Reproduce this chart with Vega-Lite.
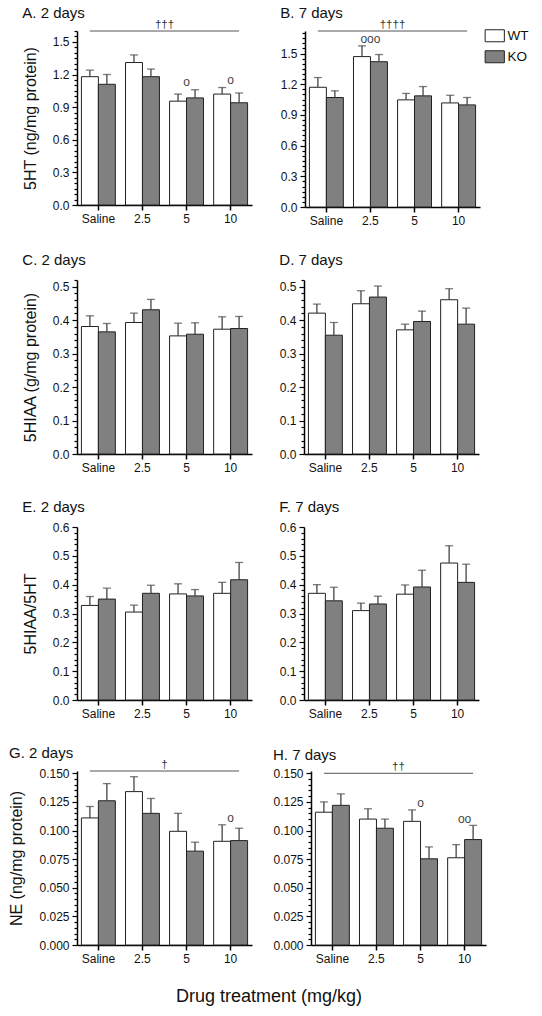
{
"$schema":"https://vega.github.io/schema/vega-lite/v6.json",
"padding":{"left":8,"top":6,"right":5,"bottom":5},
"datasets":{
"vals":[
{"p":"A","d":"Saline","g":"WT","m":1.18,"u":1.24},{"p":"A","d":"Saline","g":"KO","m":1.11,"u":1.2},
{"p":"A","d":"2.5","g":"WT","m":1.31,"u":1.38},{"p":"A","d":"2.5","g":"KO","m":1.18,"u":1.25},
{"p":"A","d":"5","g":"WT","m":0.955,"u":1.02},{"p":"A","d":"5","g":"KO","m":0.985,"u":1.06},
{"p":"A","d":"10","g":"WT","m":1.02,"u":1.08},{"p":"A","d":"10","g":"KO","m":0.94,"u":1.03},
{"p":"B","d":"Saline","g":"WT","m":1.17,"u":1.265},{"p":"B","d":"Saline","g":"KO","m":1.07,"u":1.135},
{"p":"B","d":"2.5","g":"WT","m":1.47,"u":1.575},{"p":"B","d":"2.5","g":"KO","m":1.42,"u":1.49},
{"p":"B","d":"5","g":"WT","m":1.047,"u":1.11},{"p":"B","d":"5","g":"KO","m":1.086,"u":1.177},
{"p":"B","d":"10","g":"WT","m":1.017,"u":1.092},{"p":"B","d":"10","g":"KO","m":0.998,"u":1.07},
{"p":"C","d":"Saline","g":"WT","m":0.381,"u":0.413},{"p":"C","d":"Saline","g":"KO","m":0.365,"u":0.39},
{"p":"C","d":"2.5","g":"WT","m":0.393,"u":0.421},{"p":"C","d":"2.5","g":"KO","m":0.431,"u":0.462},
{"p":"C","d":"5","g":"WT","m":0.353,"u":0.391},{"p":"C","d":"5","g":"KO","m":0.358,"u":0.392},
{"p":"C","d":"10","g":"WT","m":0.373,"u":0.41},{"p":"C","d":"10","g":"KO","m":0.375,"u":0.411},
{"p":"D","d":"Saline","g":"WT","m":0.421,"u":0.448},{"p":"D","d":"Saline","g":"KO","m":0.355,"u":0.393},
{"p":"D","d":"2.5","g":"WT","m":0.449,"u":0.488},{"p":"D","d":"2.5","g":"KO","m":0.469,"u":0.502},
{"p":"D","d":"5","g":"WT","m":0.371,"u":0.388},{"p":"D","d":"5","g":"KO","m":0.396,"u":0.427},
{"p":"D","d":"10","g":"WT","m":0.461,"u":0.494},{"p":"D","d":"10","g":"KO","m":0.388,"u":0.436},
{"p":"E","d":"Saline","g":"WT","m":0.328,"u":0.359},{"p":"E","d":"Saline","g":"KO","m":0.35,"u":0.388},
{"p":"E","d":"2.5","g":"WT","m":0.305,"u":0.329},{"p":"E","d":"2.5","g":"KO","m":0.37,"u":0.398},
{"p":"E","d":"5","g":"WT","m":0.368,"u":0.403},{"p":"E","d":"5","g":"KO","m":0.361,"u":0.383},
{"p":"E","d":"10","g":"WT","m":0.37,"u":0.408},{"p":"E","d":"10","g":"KO","m":0.417,"u":0.477},
{"p":"F","d":"Saline","g":"WT","m":0.37,"u":0.4},{"p":"F","d":"Saline","g":"KO","m":0.344,"u":0.391},
{"p":"F","d":"2.5","g":"WT","m":0.31,"u":0.336},{"p":"F","d":"2.5","g":"KO","m":0.333,"u":0.36},
{"p":"F","d":"5","g":"WT","m":0.367,"u":0.399},{"p":"F","d":"5","g":"KO","m":0.392,"u":0.45},
{"p":"F","d":"10","g":"WT","m":0.475,"u":0.535},{"p":"F","d":"10","g":"KO","m":0.408,"u":0.471},
{"p":"G","d":"Saline","g":"WT","m":0.111,"u":0.121},{"p":"G","d":"Saline","g":"KO","m":0.126,"u":0.141},
{"p":"G","d":"2.5","g":"WT","m":0.134,"u":0.147},{"p":"G","d":"2.5","g":"KO","m":0.115,"u":0.128},
{"p":"G","d":"5","g":"WT","m":0.0993,"u":0.115},{"p":"G","d":"5","g":"KO","m":0.082,"u":0.0898},
{"p":"G","d":"10","g":"WT","m":0.0906,"u":0.105},{"p":"G","d":"10","g":"KO","m":0.0912,"u":0.102},
{"p":"H","d":"Saline","g":"WT","m":0.116,"u":0.125},{"p":"H","d":"Saline","g":"KO","m":0.122,"u":0.132},
{"p":"H","d":"2.5","g":"WT","m":0.11,"u":0.119},{"p":"H","d":"2.5","g":"KO","m":0.102,"u":0.11},
{"p":"H","d":"5","g":"WT","m":0.108,"u":0.118},{"p":"H","d":"5","g":"KO","m":0.0753,"u":0.0857},
{"p":"H","d":"10","g":"WT","m":0.0762,"u":0.0877},{"p":"H","d":"10","g":"KO","m":0.0921,"u":0.1045}
],
"sig":[
{"p":"A","a":"Saline","b":"10","c":"2.5","y":1.6,"t":"†††"},
{"p":"B","a":"Saline","b":"10","c":"2.5","y":1.72,"t":"††††"},
{"p":"G","a":"Saline","b":"10","c":"2.5","y":0.152,"t":"†"},
{"p":"H","a":"Saline","b":"10","c":"2.5","y":0.15,"t":"††"}
],
"circ":[
{"p":"A","d":"5","y":1.13,"t":"o"},{"p":"A","d":"10","y":1.146,"t":"o"},
{"p":"B","d":"2.5","y":1.64,"t":"ooo"},
{"p":"G","d":"10","y":0.111,"t":"o"},
{"p":"H","d":"5","y":0.124,"t":"o"},{"p":"H","d":"10","y":0.11,"t":"oo"}
]
},
"title":{"text":"Drug treatment (mg/kg)","orient":"bottom","anchor":"middle","frame":"bounds","fontSize":18,"fontWeight":"normal","offset":24},
"spacing":27,
"vconcat":[
{"spacing":28,"hconcat":[
{"width":175,"height":174,"title":{"text":"A. 2 days","offset":-2},"resolve":{"axis":{"x":"independent","y":"independent"}},
"layer":[
{"data":{"name":"vals"},"transform":[{"filter":"datum.p==='A'"}],"mark":{"type":"bar","stroke":"#222","strokeWidth":1},
"encoding":{"x":{"field":"d","type":"nominal","scale":{"domain":["Saline","2.5","5","10"],"paddingInner":0.23,"paddingOuter":0.1},"axis":{"title":null}},
"xOffset":{"field":"g","type":"nominal","scale":{"domain":["WT","KO"]}},
"y":{"field":"m","type":"quantitative","scale":{"domain":[0,1.6],"nice":false},"axis":{"title":"5HT (ng/mg protein)","values":[0,0.05,0.1,0.15,0.2,0.25,0.3,0.35,0.4,0.45,0.5,0.55,0.6,0.65,0.7,0.75,0.8,0.85,0.9,0.95,1,1.05,1.1,1.15,1.2,1.25,1.3,1.35,1.4,1.45,1.5,1.55,1.6],"labelExpr":"abs(datum.value/0.3-round(datum.value/0.3))<0.001 ? format(datum.value,'.1f') : ''","tickSize":{"condition":{"test":"abs(datum.value/0.3-round(datum.value/0.3))<0.001","value":5},"value":3}}},
"fill":{"field":"g","type":"nominal","title":null,"scale":{"domain":["WT","KO"],"range":["#ffffff","#808080"]}}}},
{"data":{"name":"vals"},"transform":[{"filter":"datum.p==='A'"}],"mark":{"type":"rule","color":"#444","strokeWidth":1.3},
"encoding":{"x":{"field":"d","type":"nominal","scale":{"domain":["Saline","2.5","5","10"]},"axis":null},"xOffset":{"field":"g","type":"nominal","scale":{"domain":["WT","KO"]}},"y":{"field":"m","type":"quantitative","axis":null},"y2":{"field":"u"}}},
{"data":{"name":"vals"},"transform":[{"filter":"datum.p==='A'"}],"mark":{"type":"tick","color":"#444","thickness":1.3,"size":8},
"encoding":{"x":{"field":"d","type":"nominal","scale":{"domain":["Saline","2.5","5","10"]},"axis":null},"xOffset":{"field":"g","type":"nominal","scale":{"domain":["WT","KO"]}},"y":{"field":"u","type":"quantitative","axis":null}}},
{"data":{"name":"sig"},"transform":[{"filter":"datum.p==='A'"}],"mark":{"type":"rule","color":"#555","strokeWidth":1},
"encoding":{"x":{"field":"a","type":"nominal","bandPosition":0.25,"scale":{"domain":["Saline","2.5","5","10"]},"axis":null},"x2":{"field":"b","bandPosition":0.75},"y":{"field":"y","type":"quantitative","axis":null}}},
{"data":{"name":"sig"},"transform":[{"filter":"datum.p==='A'"}],"mark":{"type":"text","baseline":"bottom","fontSize":11.5,"color":"#333","dy":-1},
"encoding":{"x":{"field":"c","type":"nominal","bandPosition":1.149,"scale":{"domain":["Saline","2.5","5","10"]},"axis":null},"y":{"field":"y","type":"quantitative","axis":null},"text":{"field":"t"}}},
{"data":{"name":"circ"},"transform":[{"filter":"datum.p==='A'"}],"mark":{"type":"text","baseline":"middle","fontSize":12,"color":"#444"},
"encoding":{"x":{"field":"d","type":"nominal","scale":{"domain":["Saline","2.5","5","10"]},"axis":null},"y":{"field":"y","type":"quantitative","axis":null},"text":{"field":"t"}}}
]},
{"width":175,"height":176,"title":{"text":"B. 7 days","offset":-2},"resolve":{"axis":{"x":"independent","y":"independent"}},
"layer":[
{"data":{"name":"vals"},"transform":[{"filter":"datum.p==='B'"}],"mark":{"type":"bar","stroke":"#222","strokeWidth":1},
"encoding":{"x":{"field":"d","type":"nominal","scale":{"domain":["Saline","2.5","5","10"],"paddingInner":0.23,"paddingOuter":0.1},"axis":{"title":null}},
"xOffset":{"field":"g","type":"nominal","scale":{"domain":["WT","KO"]}},
"y":{"field":"m","type":"quantitative","scale":{"domain":[0,1.72],"nice":false},"axis":{"title":null,"values":[0,0.05,0.1,0.15,0.2,0.25,0.3,0.35,0.4,0.45,0.5,0.55,0.6,0.65,0.7,0.75,0.8,0.85,0.9,0.95,1,1.05,1.1,1.15,1.2,1.25,1.3,1.35,1.4,1.45,1.5,1.55,1.6,1.65,1.7],"labelExpr":"abs(datum.value/0.3-round(datum.value/0.3))<0.001 ? format(datum.value,'.1f') : ''","tickSize":{"condition":{"test":"abs(datum.value/0.3-round(datum.value/0.3))<0.001","value":5},"value":3}}},
"fill":{"field":"g","type":"nominal","title":null,"scale":{"domain":["WT","KO"],"range":["#ffffff","#808080"]}}}},
{"data":{"name":"vals"},"transform":[{"filter":"datum.p==='B'"}],"mark":{"type":"rule","color":"#444","strokeWidth":1.3},
"encoding":{"x":{"field":"d","type":"nominal","scale":{"domain":["Saline","2.5","5","10"]},"axis":null},"xOffset":{"field":"g","type":"nominal","scale":{"domain":["WT","KO"]}},"y":{"field":"m","type":"quantitative","axis":null},"y2":{"field":"u"}}},
{"data":{"name":"vals"},"transform":[{"filter":"datum.p==='B'"}],"mark":{"type":"tick","color":"#444","thickness":1.3,"size":8},
"encoding":{"x":{"field":"d","type":"nominal","scale":{"domain":["Saline","2.5","5","10"]},"axis":null},"xOffset":{"field":"g","type":"nominal","scale":{"domain":["WT","KO"]}},"y":{"field":"u","type":"quantitative","axis":null}}},
{"data":{"name":"sig"},"transform":[{"filter":"datum.p==='B'"}],"mark":{"type":"rule","color":"#555","strokeWidth":1},
"encoding":{"x":{"field":"a","type":"nominal","bandPosition":0.25,"scale":{"domain":["Saline","2.5","5","10"]},"axis":null},"x2":{"field":"b","bandPosition":0.75},"y":{"field":"y","type":"quantitative","axis":null}}},
{"data":{"name":"sig"},"transform":[{"filter":"datum.p==='B'"}],"mark":{"type":"text","baseline":"bottom","fontSize":11.5,"color":"#333","dy":-1},
"encoding":{"x":{"field":"c","type":"nominal","bandPosition":1.149,"scale":{"domain":["Saline","2.5","5","10"]},"axis":null},"y":{"field":"y","type":"quantitative","axis":null},"text":{"field":"t"}}},
{"data":{"name":"circ"},"transform":[{"filter":"datum.p==='B'"}],"mark":{"type":"text","baseline":"middle","fontSize":12,"color":"#444"},
"encoding":{"x":{"field":"d","type":"nominal","scale":{"domain":["Saline","2.5","5","10"]},"axis":null},"y":{"field":"y","type":"quantitative","axis":null},"text":{"field":"t"}}}
]}
]},
{"spacing":27,"hconcat":[
{"width":175,"height":174,"title":{"text":"C. 2 days"},"resolve":{"axis":{"x":"independent","y":"independent"}},
"layer":[
{"data":{"name":"vals"},"transform":[{"filter":"datum.p==='C'"}],"mark":{"type":"bar","stroke":"#222","strokeWidth":1},
"encoding":{"x":{"field":"d","type":"nominal","scale":{"domain":["Saline","2.5","5","10"],"paddingInner":0.23,"paddingOuter":0.1},"axis":{"title":null}},
"xOffset":{"field":"g","type":"nominal","scale":{"domain":["WT","KO"]}},
"y":{"field":"m","type":"quantitative","scale":{"domain":[0,0.52],"nice":false},"axis":{"title":"5HIAA (g/mg protein)","values":[0,0.02,0.04,0.06,0.08,0.1,0.12,0.14,0.16,0.18,0.2,0.22,0.24,0.26,0.28,0.3,0.32,0.34,0.36,0.38,0.4,0.42,0.44,0.46,0.48,0.5,0.52],"labelExpr":"abs(datum.value*10-round(datum.value*10))<0.001 ? format(datum.value,'.1f') : ''","tickSize":{"condition":{"test":"abs(datum.value*10-round(datum.value*10))<0.001","value":5},"value":3}}},
"fill":{"field":"g","type":"nominal","title":null,"scale":{"domain":["WT","KO"],"range":["#ffffff","#808080"]}}}},
{"data":{"name":"vals"},"transform":[{"filter":"datum.p==='C'"}],"mark":{"type":"rule","color":"#444","strokeWidth":1.3},
"encoding":{"x":{"field":"d","type":"nominal","scale":{"domain":["Saline","2.5","5","10"]},"axis":null},"xOffset":{"field":"g","type":"nominal","scale":{"domain":["WT","KO"]}},"y":{"field":"m","type":"quantitative","axis":null},"y2":{"field":"u"}}},
{"data":{"name":"vals"},"transform":[{"filter":"datum.p==='C'"}],"mark":{"type":"tick","color":"#444","thickness":1.3,"size":8},
"encoding":{"x":{"field":"d","type":"nominal","scale":{"domain":["Saline","2.5","5","10"]},"axis":null},"xOffset":{"field":"g","type":"nominal","scale":{"domain":["WT","KO"]}},"y":{"field":"u","type":"quantitative","axis":null}}}
]},
{"width":175,"height":174,"title":{"text":"D. 7 days"},"resolve":{"axis":{"x":"independent","y":"independent"}},
"layer":[
{"data":{"name":"vals"},"transform":[{"filter":"datum.p==='D'"}],"mark":{"type":"bar","stroke":"#222","strokeWidth":1},
"encoding":{"x":{"field":"d","type":"nominal","scale":{"domain":["Saline","2.5","5","10"],"paddingInner":0.23,"paddingOuter":0.1},"axis":{"title":null}},
"xOffset":{"field":"g","type":"nominal","scale":{"domain":["WT","KO"]}},
"y":{"field":"m","type":"quantitative","scale":{"domain":[0,0.52],"nice":false},"axis":{"title":null,"values":[0,0.02,0.04,0.06,0.08,0.1,0.12,0.14,0.16,0.18,0.2,0.22,0.24,0.26,0.28,0.3,0.32,0.34,0.36,0.38,0.4,0.42,0.44,0.46,0.48,0.5,0.52],"labelExpr":"abs(datum.value*10-round(datum.value*10))<0.001 ? format(datum.value,'.1f') : ''","tickSize":{"condition":{"test":"abs(datum.value*10-round(datum.value*10))<0.001","value":5},"value":3}}},
"fill":{"field":"g","type":"nominal","title":null,"scale":{"domain":["WT","KO"],"range":["#ffffff","#808080"]}}}},
{"data":{"name":"vals"},"transform":[{"filter":"datum.p==='D'"}],"mark":{"type":"rule","color":"#444","strokeWidth":1.3},
"encoding":{"x":{"field":"d","type":"nominal","scale":{"domain":["Saline","2.5","5","10"]},"axis":null},"xOffset":{"field":"g","type":"nominal","scale":{"domain":["WT","KO"]}},"y":{"field":"m","type":"quantitative","axis":null},"y2":{"field":"u"}}},
{"data":{"name":"vals"},"transform":[{"filter":"datum.p==='D'"}],"mark":{"type":"tick","color":"#444","thickness":1.3,"size":8},
"encoding":{"x":{"field":"d","type":"nominal","scale":{"domain":["Saline","2.5","5","10"]},"axis":null},"xOffset":{"field":"g","type":"nominal","scale":{"domain":["WT","KO"]}},"y":{"field":"u","type":"quantitative","axis":null}}}
]}
]},
{"spacing":27,"hconcat":[
{"width":175,"height":173,"title":{"text":"E. 2 days"},"resolve":{"axis":{"x":"independent","y":"independent"}},
"layer":[
{"data":{"name":"vals"},"transform":[{"filter":"datum.p==='E'"}],"mark":{"type":"bar","stroke":"#222","strokeWidth":1},
"encoding":{"x":{"field":"d","type":"nominal","scale":{"domain":["Saline","2.5","5","10"],"paddingInner":0.23,"paddingOuter":0.1},"axis":{"title":null}},
"xOffset":{"field":"g","type":"nominal","scale":{"domain":["WT","KO"]}},
"y":{"field":"m","type":"quantitative","scale":{"domain":[0,0.6],"nice":false},"axis":{"title":"5HIAA/5HT","values":[0,0.02,0.04,0.06,0.08,0.1,0.12,0.14,0.16,0.18,0.2,0.22,0.24,0.26,0.28,0.3,0.32,0.34,0.36,0.38,0.4,0.42,0.44,0.46,0.48,0.5,0.52,0.54,0.56,0.58,0.6],"labelExpr":"abs(datum.value*10-round(datum.value*10))<0.001 ? format(datum.value,'.1f') : ''","tickSize":{"condition":{"test":"abs(datum.value*10-round(datum.value*10))<0.001","value":5},"value":3}}},
"fill":{"field":"g","type":"nominal","title":null,"scale":{"domain":["WT","KO"],"range":["#ffffff","#808080"]}}}},
{"data":{"name":"vals"},"transform":[{"filter":"datum.p==='E'"}],"mark":{"type":"rule","color":"#444","strokeWidth":1.3},
"encoding":{"x":{"field":"d","type":"nominal","scale":{"domain":["Saline","2.5","5","10"]},"axis":null},"xOffset":{"field":"g","type":"nominal","scale":{"domain":["WT","KO"]}},"y":{"field":"m","type":"quantitative","axis":null},"y2":{"field":"u"}}},
{"data":{"name":"vals"},"transform":[{"filter":"datum.p==='E'"}],"mark":{"type":"tick","color":"#444","thickness":1.3,"size":8},
"encoding":{"x":{"field":"d","type":"nominal","scale":{"domain":["Saline","2.5","5","10"]},"axis":null},"xOffset":{"field":"g","type":"nominal","scale":{"domain":["WT","KO"]}},"y":{"field":"u","type":"quantitative","axis":null}}}
]},
{"width":175,"height":173,"title":{"text":"F. 7 days"},"resolve":{"axis":{"x":"independent","y":"independent"}},
"layer":[
{"data":{"name":"vals"},"transform":[{"filter":"datum.p==='F'"}],"mark":{"type":"bar","stroke":"#222","strokeWidth":1},
"encoding":{"x":{"field":"d","type":"nominal","scale":{"domain":["Saline","2.5","5","10"],"paddingInner":0.23,"paddingOuter":0.1},"axis":{"title":null}},
"xOffset":{"field":"g","type":"nominal","scale":{"domain":["WT","KO"]}},
"y":{"field":"m","type":"quantitative","scale":{"domain":[0,0.6],"nice":false},"axis":{"title":null,"values":[0,0.02,0.04,0.06,0.08,0.1,0.12,0.14,0.16,0.18,0.2,0.22,0.24,0.26,0.28,0.3,0.32,0.34,0.36,0.38,0.4,0.42,0.44,0.46,0.48,0.5,0.52,0.54,0.56,0.58,0.6],"labelExpr":"abs(datum.value*10-round(datum.value*10))<0.001 ? format(datum.value,'.1f') : ''","tickSize":{"condition":{"test":"abs(datum.value*10-round(datum.value*10))<0.001","value":5},"value":3}}},
"fill":{"field":"g","type":"nominal","title":null,"scale":{"domain":["WT","KO"],"range":["#ffffff","#808080"]}}}},
{"data":{"name":"vals"},"transform":[{"filter":"datum.p==='F'"}],"mark":{"type":"rule","color":"#444","strokeWidth":1.3},
"encoding":{"x":{"field":"d","type":"nominal","scale":{"domain":["Saline","2.5","5","10"]},"axis":null},"xOffset":{"field":"g","type":"nominal","scale":{"domain":["WT","KO"]}},"y":{"field":"m","type":"quantitative","axis":null},"y2":{"field":"u"}}},
{"data":{"name":"vals"},"transform":[{"filter":"datum.p==='F'"}],"mark":{"type":"tick","color":"#444","thickness":1.3,"size":8},
"encoding":{"x":{"field":"d","type":"nominal","scale":{"domain":["Saline","2.5","5","10"]},"axis":null},"xOffset":{"field":"g","type":"nominal","scale":{"domain":["WT","KO"]}},"y":{"field":"u","type":"quantitative","axis":null}}}
]}
]},
{"spacing":20,"hconcat":[
{"width":175,"height":174,"title":{"text":"G. 2 days","offset":-2},"resolve":{"axis":{"x":"independent","y":"independent"}},
"layer":[
{"data":{"name":"vals"},"transform":[{"filter":"datum.p==='G'"}],"mark":{"type":"bar","stroke":"#222","strokeWidth":1},
"encoding":{"x":{"field":"d","type":"nominal","scale":{"domain":["Saline","2.5","5","10"],"paddingInner":0.23,"paddingOuter":0.1},"axis":{"title":null}},
"xOffset":{"field":"g","type":"nominal","scale":{"domain":["WT","KO"]}},
"y":{"field":"m","type":"quantitative","scale":{"domain":[0,0.152],"nice":false},"axis":{"title":"NE (ng/mg protein)","values":[0,0.005,0.01,0.015,0.02,0.025,0.03,0.035,0.04,0.045,0.05,0.055,0.06,0.065,0.07,0.075,0.08,0.085,0.09,0.095,0.1,0.105,0.11,0.115,0.12,0.125,0.13,0.135,0.14,0.145,0.15],"labelExpr":"abs(datum.value*40-round(datum.value*40))<0.001 ? format(datum.value,'.3f') : ''","tickSize":{"condition":{"test":"abs(datum.value*40-round(datum.value*40))<0.001","value":5},"value":3}}},
"fill":{"field":"g","type":"nominal","title":null,"scale":{"domain":["WT","KO"],"range":["#ffffff","#808080"]}}}},
{"data":{"name":"vals"},"transform":[{"filter":"datum.p==='G'"}],"mark":{"type":"rule","color":"#444","strokeWidth":1.3},
"encoding":{"x":{"field":"d","type":"nominal","scale":{"domain":["Saline","2.5","5","10"]},"axis":null},"xOffset":{"field":"g","type":"nominal","scale":{"domain":["WT","KO"]}},"y":{"field":"m","type":"quantitative","axis":null},"y2":{"field":"u"}}},
{"data":{"name":"vals"},"transform":[{"filter":"datum.p==='G'"}],"mark":{"type":"tick","color":"#444","thickness":1.3,"size":8},
"encoding":{"x":{"field":"d","type":"nominal","scale":{"domain":["Saline","2.5","5","10"]},"axis":null},"xOffset":{"field":"g","type":"nominal","scale":{"domain":["WT","KO"]}},"y":{"field":"u","type":"quantitative","axis":null}}},
{"data":{"name":"sig"},"transform":[{"filter":"datum.p==='G'"}],"mark":{"type":"rule","color":"#555","strokeWidth":1},
"encoding":{"x":{"field":"a","type":"nominal","bandPosition":0.25,"scale":{"domain":["Saline","2.5","5","10"]},"axis":null},"x2":{"field":"b","bandPosition":0.75},"y":{"field":"y","type":"quantitative","axis":null}}},
{"data":{"name":"sig"},"transform":[{"filter":"datum.p==='G'"}],"mark":{"type":"text","baseline":"bottom","fontSize":11.5,"color":"#333","dy":-1},
"encoding":{"x":{"field":"c","type":"nominal","bandPosition":1.149,"scale":{"domain":["Saline","2.5","5","10"]},"axis":null},"y":{"field":"y","type":"quantitative","axis":null},"text":{"field":"t"}}},
{"data":{"name":"circ"},"transform":[{"filter":"datum.p==='G'"}],"mark":{"type":"text","baseline":"middle","fontSize":12,"color":"#444"},
"encoding":{"x":{"field":"d","type":"nominal","scale":{"domain":["Saline","2.5","5","10"]},"axis":null},"y":{"field":"y","type":"quantitative","axis":null},"text":{"field":"t"}}}
]},
{"width":175,"height":174,"title":{"text":"H. 7 days","offset":-2},"resolve":{"axis":{"x":"independent","y":"independent"}},
"layer":[
{"data":{"name":"vals"},"transform":[{"filter":"datum.p==='H'"}],"mark":{"type":"bar","stroke":"#222","strokeWidth":1},
"encoding":{"x":{"field":"d","type":"nominal","scale":{"domain":["Saline","2.5","5","10"],"paddingInner":0.23,"paddingOuter":0.1},"axis":{"title":null}},
"xOffset":{"field":"g","type":"nominal","scale":{"domain":["WT","KO"]}},
"y":{"field":"m","type":"quantitative","scale":{"domain":[0,0.152],"nice":false},"axis":{"title":null,"values":[0,0.005,0.01,0.015,0.02,0.025,0.03,0.035,0.04,0.045,0.05,0.055,0.06,0.065,0.07,0.075,0.08,0.085,0.09,0.095,0.1,0.105,0.11,0.115,0.12,0.125,0.13,0.135,0.14,0.145,0.15],"labelExpr":"abs(datum.value*40-round(datum.value*40))<0.001 ? format(datum.value,'.3f') : ''","tickSize":{"condition":{"test":"abs(datum.value*40-round(datum.value*40))<0.001","value":5},"value":3}}},
"fill":{"field":"g","type":"nominal","title":null,"scale":{"domain":["WT","KO"],"range":["#ffffff","#808080"]}}}},
{"data":{"name":"vals"},"transform":[{"filter":"datum.p==='H'"}],"mark":{"type":"rule","color":"#444","strokeWidth":1.3},
"encoding":{"x":{"field":"d","type":"nominal","scale":{"domain":["Saline","2.5","5","10"]},"axis":null},"xOffset":{"field":"g","type":"nominal","scale":{"domain":["WT","KO"]}},"y":{"field":"m","type":"quantitative","axis":null},"y2":{"field":"u"}}},
{"data":{"name":"vals"},"transform":[{"filter":"datum.p==='H'"}],"mark":{"type":"tick","color":"#444","thickness":1.3,"size":8},
"encoding":{"x":{"field":"d","type":"nominal","scale":{"domain":["Saline","2.5","5","10"]},"axis":null},"xOffset":{"field":"g","type":"nominal","scale":{"domain":["WT","KO"]}},"y":{"field":"u","type":"quantitative","axis":null}}},
{"data":{"name":"sig"},"transform":[{"filter":"datum.p==='H'"}],"mark":{"type":"rule","color":"#555","strokeWidth":1},
"encoding":{"x":{"field":"a","type":"nominal","bandPosition":0.25,"scale":{"domain":["Saline","2.5","5","10"]},"axis":null},"x2":{"field":"b","bandPosition":0.75},"y":{"field":"y","type":"quantitative","axis":null}}},
{"data":{"name":"sig"},"transform":[{"filter":"datum.p==='H'"}],"mark":{"type":"text","baseline":"bottom","fontSize":11.5,"color":"#333","dy":-1},
"encoding":{"x":{"field":"c","type":"nominal","bandPosition":1.149,"scale":{"domain":["Saline","2.5","5","10"]},"axis":null},"y":{"field":"y","type":"quantitative","axis":null},"text":{"field":"t"}}},
{"data":{"name":"circ"},"transform":[{"filter":"datum.p==='H'"}],"mark":{"type":"text","baseline":"middle","fontSize":12,"color":"#444"},
"encoding":{"x":{"field":"d","type":"nominal","scale":{"domain":["Saline","2.5","5","10"]},"axis":null},"y":{"field":"y","type":"quantitative","axis":null},"text":{"field":"t"}}}
]}
]}
],
"config":{
"font":"Liberation Sans",
"view":{"stroke":null},
"axis":{"grid":false,"domainColor":"#000","tickColor":"#000","labelColor":"#111","labelFontSize":12,"titleFontSize":16,"titleFontWeight":"normal","titleColor":"#111","labelOverlap":false},
"axisX":{"domainWidth":1.5,"tickWidth":1.5,"tickSize":5,"labelAngle":0,"labelPadding":3},
"axisY":{"domainWidth":1.5,"tickWidth":1.2,"tickSize":5,"labelPadding":3,"titlePadding":14,"minExtent":0},
"title":{"anchor":"start","frame":"bounds","fontSize":15,"fontWeight":"normal","color":"#111","offset":6},
"legend":{"orient":"none","legendX":411,"legendY":-2,"symbolType":"M-1.6,-1H1.6V1H-1.6Z","symbolSize":144,"symbolStrokeColor":"#222","symbolStrokeWidth":1,"labelFontSize":13.5,"labelColor":"#111","rowPadding":4,"padding":0,"labelOffset":6}
}
}
